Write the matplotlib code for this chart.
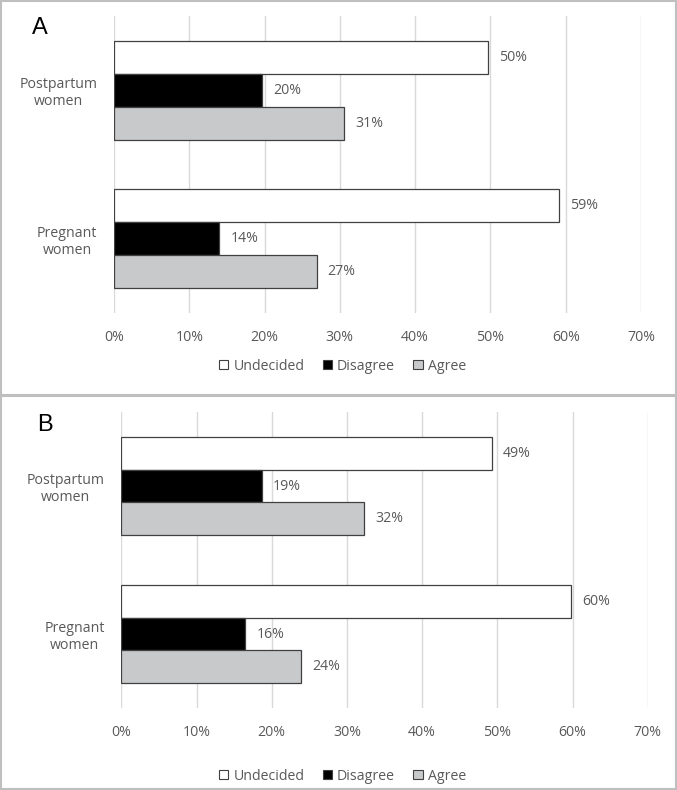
import matplotlib
matplotlib.use("Agg")
import matplotlib.pyplot as plt
from matplotlib.patches import Patch, Rectangle
import numpy as np

plt.rcParams['font.family'] = ['Open Sans', 'DejaVu Sans']

categories = ["Pregnant\nwomen", "Postpartum\nwomen"]  # bottom to top
series = ["Undecided", "Disagree", "Agree"]
xticks = [0, 10, 20, 30, 40, 50, 60, 70]
xtick_labels = ["0%", "10%", "20%", "30%", "40%", "50%", "60%", "70%"]

# Panel A values (percent), order: Pregnant, Postpartum
a_undecided = [59.1, 49.7]
a_disagree = [14.0, 19.7]
a_agree = [26.9, 30.6]
a_labels_undecided = ["59%", "50%"]
a_labels_disagree = ["14%", "20%"]
a_labels_agree = ["27%", "31%"]

# Panel B values (percent)
b_undecided = [59.8, 49.3]
b_disagree = [16.5, 18.7]
b_agree = [23.9, 32.3]
b_labels_undecided = ["60%", "49%"]
b_labels_disagree = ["16%", "19%"]
b_labels_agree = ["24%", "32%"]

fill_colors = {"Undecided": "#FFFFFF", "Disagree": "#000000", "Agree": "#C8C9CB"}
edge_color = "#404040"
text_color = "#595959"
grid_color = "#D9D9D9"
fs = 10.2

W, H = 677, 790
fig = plt.figure(figsize=(W / 100, H / 100), dpi=100)

# panel borders
for (y0, y1) in [(1, 395), (396, 789)]:
    fig.patches.append(Rectangle((1 / W, 1 - y1 / H), 675 / W, (y1 - y0) / H,
                                 transform=fig.transFigure, fill=False,
                                 edgecolor="#BFBFBF", linewidth=1.5, zorder=0))


def draw_panel(rect, letter, letter_xy, und, dis, agr, lu, ld, la, legend_y):
    ax = fig.add_axes(rect)
    y = np.arange(len(categories))
    h = 0.222
    data = [(und, lu, "Undecided", h), (dis, ld, "Disagree", 0.0), (agr, la, "Agree", -h)]
    for vals, labs, name, off in data:
        bars = ax.barh(y + off, vals, height=h, color=fill_colors[name],
                       edgecolor=edge_color, linewidth=0.9, zorder=3)
        for b, lab in zip(bars, labs):
            ax.annotate(lab, (b.get_width(), b.get_y() + b.get_height() / 2),
                        xytext=(8, 0), textcoords="offset points",
                        ha="left", va="center", fontsize=fs, color=text_color)
    ax.set_xlim(0, 70)
    ax.set_ylim(-0.5, 1.5)
    ax.set_xticks(xticks)
    ax.set_xticklabels(xtick_labels)
    ax.set_yticks(y)
    ax.set_yticklabels(categories, multialignment="center")
    ax.tick_params(axis="both", length=0, labelsize=fs, colors=text_color)
    ax.tick_params(axis="x", pad=12)
    ax.tick_params(axis="y", pad=12)
    for s in ax.spines.values():
        s.set_visible(False)
    ax.xaxis.grid(True, color=grid_color, linewidth=1.0, zorder=0)
    ax.set_axisbelow(True)
    fig.text(letter_xy[0] / W, 1 - letter_xy[1] / H, letter, fontsize=17,
             color="black", ha="center", va="center",
             family=["Liberation Sans", "DejaVu Sans"])
    handles = [Patch(facecolor=fill_colors[n], edgecolor=edge_color, linewidth=0.8, label=n)
               for n in series]
    fig.legend(handles=handles, loc="center", bbox_to_anchor=(0.506, 1 - legend_y / H),
               ncol=3, frameon=False, fontsize=fs, labelcolor=text_color,
               handlelength=0.65, handleheight=0.65, handletextpad=0.35,
               columnspacing=1.3, borderaxespad=0)
    return ax


draw_panel([114 / W, 1 - 313 / H, (641 - 114) / W, 297 / H], "A", (40, 28),
           a_undecided, a_disagree, a_agree,
           a_labels_undecided, a_labels_disagree, a_labels_agree, 366)
draw_panel([121.3 / W, 1 - 708 / H, (647.7 - 121.3) / W, 296 / H], "B", (45, 425),
           b_undecided, b_disagree, b_agree,
           b_labels_undecided, b_labels_disagree, b_labels_agree, 776)

fig.savefig("out.png", dpi=100)
